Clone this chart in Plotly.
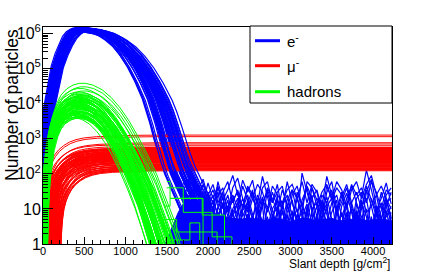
import plotly.graph_objects as go

# ---------------- data ----------------
# electron (e-) median longitudinal profile: depth [g/cm2] -> log10(N)
X_E = [0, 15, 30, 50, 75, 100, 150, 200, 250, 300, 350, 400, 450, 500, 550, 600, 650, 700, 800, 900,
       1000, 1100, 1200, 1300, 1400, 1450, 1500, 1550, 1600, 1650, 1700, 1750, 1800, 1850, 1900, 1950, 2000, 2050]
LOG_E = [-0.5, 1.2, 2.0, 2.8, 3.5, 3.85, 4.45, 5.05, 5.4, 5.68, 5.9, 6.03, 6.1, 6.12, 6.12, 6.1, 6.08, 6.06, 5.98, 5.84,
         5.65, 5.38, 5.04, 4.62, 4.12, 3.8, 3.42, 3.0, 2.6, 2.25, 1.95, 1.7, 1.45, 1.2, 0.95, 0.6, 0.1, -0.5]
E_DX = [-85, -60, -40, -20, 0, 20, -70, -50, -30, -10, 10, 30, -80, -55, -35, -15, 5, 25, -75, -45,
        -25, -5, 15, -65, -42, -22, -2, 18, -88, -58, -38, -18, 8, 28, -68, -48, -28, -8, 12, -33,
        -82, -62, -44, -24, -4, 16, -72, -52, -36, -12, 4, 22, -78, -56, -30, -16, 2, 26, -64, -40]
E_STRETCH = [0.92, 1.05, 0.97, 1.08, 0.94, 1.01, 1.1, 0.9, 1.03, 0.96, 1.07, 0.99, 0.93, 1.04, 1.09, 0.95, 1.02, 0.91, 1.06, 0.98,
             1.0, 1.08, 0.94, 1.03, 0.97, 1.1, 0.92, 1.05, 1.01, 0.96, 1.07, 0.93, 0.99, 1.04, 0.95, 1.09, 0.98, 1.02, 0.91, 1.06,
             1.0, 0.93, 1.06, 0.97, 1.09, 0.91, 1.02, 1.07, 0.95, 1.04, 0.99, 0.92, 1.08, 0.96, 1.01, 1.05, 0.94, 1.1, 0.98, 1.03]
E_DLOG = [0.02, -0.05, 0.04, -0.02, 0.0, -0.07, 0.03, 0.05, -0.04, 0.01, -0.06, 0.02, -0.03, 0.04, -0.01, -0.08, 0.03, 0.0, -0.05, 0.05,
          -0.02, 0.01, -0.06, 0.03, -0.04, 0.02, 0.04, -0.03, 0.0, -0.07, 0.01, 0.05, -0.02, -0.05, 0.03, -0.01, 0.02, -0.04, 0.04, -0.06,
          0.01, -0.03, 0.05, -0.06, 0.02, -0.01, 0.04, -0.04, 0.0, 0.03, -0.07, 0.02, -0.02, 0.05, -0.05, 0.01, 0.03, -0.03, 0.04, -0.08]

# electron fluctuating tail (N values at depths X_TAIL)
X_TAIL = [1700, 1760, 1820, 1880, 1940, 2000, 2060, 2120, 2180, 2240, 2300, 2360, 2420, 2480, 2540, 2600, 2660, 2720,
          2780, 2840, 2900, 2960, 3020, 3080, 3140, 3200, 3260, 3320, 3380, 3440, 3500, 3560, 3620, 3680, 3740, 3800,
          3860, 3920, 3980, 4040, 4100, 4160, 4220]
TAIL_1 = [80, 45, 60, 25, 50, 18, 35, 12, 28, 9, 40, 76, 20, 8, 30, 14, 85, 22, 6, 18, 10, 60, 15, 5, 105, 30, 9, 20, 12, 85, 25, 7, 16, 40, 11, 5, 22, 128, 35, 9, 20, 55, 14]
TAIL_2 = [50, 70, 30, 40, 15, 55, 20, 45, 10, 25, 6, 15, 66, 30, 66, 12, 4, 35, 15, 50, 8, 3, 25, 45, 12, 6, 40, 18, 5, 30, 60, 10, 3, 20, 45, 15, 4, 30, 70, 12, 5, 25, 40]
TAIL_3 = [30, 20, 35, 12, 22, 8, 15, 30, 5, 12, 20, 4, 10, 25, 7, 2, 15, 30, 9, 3, 12, 25, 6, 2, 18, 40, 10, 3, 8, 22, 5, 1.5, 12, 28, 8, 2, 10, 35, 12, 3, 9, 20, 6]
TAIL_4 = [25, 40, 15, 30, 6, 18, 3, 10, 22, 2, 8, 15, 0.5, 6, 20, 9, 1.2, 12, 4, 25, 1, 8, 18, 3, 0.6, 10, 25, 2, 6, 15, 1, 9, 30, 4, 0.5, 14, 6, 2, 20, 8, 1, 12, 30]
TAIL_5 = [15, 8, 25, 4, 12, 30, 2, 6, 15, 0.5, 4, 10, 3, 18, 1, 5, 12, 0.7, 7, 3, 15, 0.5, 5, 10, 2, 12, 0.5, 6, 14, 3, 0.8, 8, 4, 12, 1, 6, 18, 2, 0.5, 7, 15, 3, 8]
TAIL_6 = [10, 20, 5, 14, 2, 8, 18, 1, 5, 12, 0.5, 8, 20, 4, 1, 10, 3, 0.5, 6, 12, 2, 7, 0.5, 4, 9, 1.5, 5, 12, 0.5, 3, 8, 18, 1, 5, 0.5, 8, 3, 10, 1, 4, 0.5, 9, 2]
TAIL_7 = [6, 3, 10, 1, 5, 2, 8, 0.5, 3, 6, 1, 4, 0.5, 7, 2, 0.5, 5, 1, 3, 8, 0.5, 2, 6, 1, 0.5, 4, 2, 7, 0.5, 1.5, 5, 0.5, 3, 8, 1, 0.5, 4, 1, 6, 0.5, 2, 4, 1]
TAIL_8 = [45, 15, 20, 50, 10, 30, 8, 60, 18, 35, 90, 25, 12, 40, 20, 50, 30, 10, 45, 25, 15, 35, 50, 20, 8, 60, 40, 12, 30, 50, 18, 40, 25, 10, 35, 60, 20, 50, 90, 25, 45, 20, 10]
TAIL_9 = [35, 60, 20, 45, 12, 25, 50, 15, 30, 60, 15, 35, 10, 45, 25, 8, 40, 60, 15, 30, 45, 10, 35, 20, 60, 15, 50, 30, 8, 45, 20, 60, 35, 12, 50, 25, 40, 15, 60, 30, 10, 35, 25]
TAIL_10 = [20, 12, 40, 8, 30, 15, 6, 25, 40, 8, 18, 30, 6, 15, 35, 4, 20, 8, 30, 12, 4, 18, 35, 8, 15, 4, 20, 35, 10, 4, 15, 25, 6, 15, 3, 20, 30, 8, 12, 25, 5, 15, 20]
TAIL_11 = [12, 25, 8, 18, 3, 12, 25, 5, 15, 2, 10, 20, 4, 12, 1, 8, 22, 3, 10, 18, 2, 12, 4, 20, 6, 1, 10, 15, 3, 12, 20, 2, 8, 1, 15, 4, 12, 20, 3, 10, 2, 18, 5]
TAIL_12 = [8, 15, 3, 10, 20, 4, 1, 12, 6, 18, 3, 1, 9, 15, 5, 20, 2, 6, 1, 10, 16, 3, 9, 0.5, 6, 14, 4, 1, 18, 7, 2, 12, 0.7, 5, 10, 2, 15, 6, 1, 12, 3, 6, 12]
TAIL_13 = [60, 30, 15, 35, 70, 22, 10, 40, 20, 6, 25, 10, 45, 18, 5, 25, 12, 40, 20, 8, 35, 14, 4, 30, 12, 45, 20, 6, 25, 15, 35, 8, 22, 50, 15, 30, 10, 45, 18, 6, 30, 12, 4]
TAIL_14 = [4, 9, 2, 6, 12, 1, 4, 8, 2, 5, 9, 1, 3, 7, 2, 11, 4, 1, 6, 2, 9, 3, 1, 7, 4, 2, 8, 1, 5, 10, 2, 4, 1, 7, 3, 9, 1, 5, 2, 8, 3, 1, 6]
TAILS = [TAIL_1, TAIL_2, TAIL_3, TAIL_4, TAIL_5, TAIL_6, TAIL_7, TAIL_8, TAIL_9, TAIL_10, TAIL_11, TAIL_12, TAIL_13, TAIL_14]
# dense low part of the electron tail
FILL_X = [1480, 1560, 1640, 1700, 1800, 1900, 2000, 2100, 2200, 2300, 2400, 2500, 2600, 2700, 2800, 2900, 3000,
          3100, 3200, 3300, 3400, 3500, 3600, 3700, 3800, 3900, 4000, 4100, 4230]
FILL_TOP = [1.0, 3, 8, 14, 16, 12, 9, 7, 6, 5.5, 5, 5.5, 5, 4.6, 5.5, 5, 4.4, 5.2, 5.5, 4.6, 5, 5.4, 4.5, 5, 5.3, 4.6, 5, 5.2, 4.6]

# muon (mu-) profile: depth after start -> log10(N) relative to plateau
MU_T = [0, 6, 15, 28, 45, 70, 100, 140, 190, 250, 320, 400, 500, 650, 850, 1100, 1400, 4400]
MU_REL = [-3.2, -2.3, -1.85, -1.45, -1.15, -0.92, -0.74, -0.57, -0.42, -0.3, -0.2, -0.13, -0.08, -0.045, -0.02, -0.008, 0.0, 0.0]
MU_PLAT = [3.105, 3.06, 2.886, 2.85, 2.80, 2.755, 2.74, 2.72, 2.71, 2.69, 2.68, 2.66, 2.65, 2.63, 2.62, 2.60, 2.59, 2.575,
           2.56, 2.545, 2.53, 2.515, 2.50, 2.485, 2.47, 2.455, 2.44, 2.42, 2.40, 2.385, 2.37, 2.35, 2.33, 2.31, 2.29,
           2.27, 2.25, 2.23, 2.21, 2.19, 2.17, 2.15, 2.13, 2.11, 2.088,
           2.745, 2.73, 2.70, 2.675, 2.655, 2.64, 2.625, 2.61, 2.595, 2.58, 2.565, 2.55, 2.535, 2.52, 2.505,
           2.49, 2.475, 2.46, 2.445, 2.43, 2.41, 2.39, 2.36, 2.34, 2.32, 2.28, 2.24, 2.2, 2.16, 2.12]
MU_X0 = [0, 10, 30, 5, 40, 20, 60, 15, 80, 35, 100, 50, 25, 120, 70, 45, 140, 90, 10, 110, 65, 160, 30, 130, 85,
         55, 175, 100, 40, 150, 75, 190, 115, 60, 165, 95, 200, 135, 80, 180, 120, 210, 155, 185, 195,
         25, 70, 5, 110, 50, 145, 20, 90, 130, 60, 170, 35, 100, 15, 80, 120, 45, 155, 65, 105, 140, 30, 175, 85,
         125, 160, 185, 200, 170, 205]

# hadron median profile
X_H = [0, 10, 25, 45, 70, 100, 150, 200, 260, 330, 400, 470, 550, 650, 750, 850, 950, 1050, 1150, 1250, 1350, 1450, 1520]
LOG_H = [-0.5, 0.6, 1.4, 2.1, 2.6, 3.0, 3.4, 3.65, 3.82, 3.93, 3.98, 3.98, 3.93, 3.8, 3.58, 3.28, 2.9, 2.45, 1.95, 1.4, 0.75, 0.05, -0.5]
H_DLOG = [0.6, 0.5, 0.45, 0.38, 0.32, 0.28, 0.25, 0.22, 0.2, 0.17, 0.15, 0.12, 0.1, 0.08, 0.06, 0.04, 0.02, 0.0, -0.02, -0.04,
          -0.06, -0.08, -0.1, -0.12, -0.14, -0.16, -0.18, -0.2, -0.22, -0.24, -0.26, -0.28, -0.3, -0.32, -0.34, -0.36, -0.38, -0.4, 0.05, -0.1,
          0.35, 0.27, 0.19, 0.11, 0.03, -0.05, -0.13, -0.21, -0.29, -0.37, 0.24, 0.16, 0.09, 0.01, -0.07, -0.15, -0.23, -0.31, -0.39, 0.13,
          0.07, -0.03, -0.11, -0.19, -0.27, -0.35, 0.21, 0.14, -0.01, -0.09]
H_STRETCH = [1.1, 1.08, 1.06, 1.07, 1.03, 1.05, 1.0, 1.04, 0.98, 1.02, 1.06, 0.97, 1.0, 0.95, 1.03, 0.99, 0.93, 1.01, 0.96, 1.04,
             0.92, 0.98, 1.0, 0.94, 0.97, 1.02, 0.9, 0.95, 0.99, 0.93, 0.96, 0.91, 0.97, 0.94, 0.9, 0.95, 0.92, 0.93, 1.05, 0.88,
             1.04, 1.09, 0.95, 1.06, 0.92, 1.02, 0.97, 1.05, 0.9, 0.96, 1.08, 0.93, 1.03, 0.99, 0.94, 1.07, 0.91, 0.98, 1.0, 1.05,
             0.93, 1.08, 0.96, 1.01, 0.89, 0.97, 1.0, 1.06, 0.92, 1.03]
H_DX = [0, 20, -10, 30, 10, -20, 40, 0, -30, 15, -5, 25, -15, 35, 5, -25, 45, 10, -35, 20,
        -10, 30, 0, -20, 40, 10, -30, 15, -5, 25, -15, 35, 5, -25, 45, 10, -35, 20, 0, 50,
        -20, 10, 35, -30, 20, -5, 40, -15, 25, 0, -25, 30, 5, -35, 15, -10, 45, -20, 10, 30,
        0, -30, 20, -15, 35, 5, -10, 25, -25, 15]
# hadron low-number step tails
H_TAILS = [
    ([1480, 1540, 1540, 1660, 1660, 1930, 1930, 2200, 2200], [12, 12, 20, 20, 20, 20, 6.7, 6.7, 0.5]),
    ([1450, 1620, 1620, 2110, 2110], [5, 5, 2.2, 2.2, 0.5]),
    ([1500, 1700, 1700, 2050, 2050, 2290, 2290], [40, 40, 8, 8, 1.6, 1.6, 0.5]),
    ([1500, 1540, 1540, 1940, 1940], [60, 60, 20, 20, 0.5]),
    ([1480, 1500, 1500, 1780, 1780, 1900, 1900], [3, 3, 1.3, 1.3, 4, 4, 0.5]),
]

X_TICKS = [0, 500, 1000, 1500, 2000, 2500, 3000, 3500, 4000]
Y_TICKS = [1, 10, 100, 1000, 10000, 100000, 1000000]
Y_TICKTEXT = ["1", "10", "10<sup>2</sup>", "10<sup>3</sup>", "10<sup>4</sup>", "10<sup>5</sup>", "10<sup>6</sup>"]
LEGEND_LABELS = ["e<sup>-</sup>", "μ<sup>-</sup>", "hadrons"]
COLORS = ["#0000ff", "#ff0000", "#00ff00"]

FONT = "Liberation Sans, Arial, sans-serif"


def profile_lines(bx, blog, dx, st, dl, idx):
    xs, ys = [], []
    for i in idx:
        for x, lg in zip(bx, blog):
            xs.append(x * st[i] + dx[i])
            ys.append(10 ** (lg + dl[i]))
        xs.append(None)
        ys.append(None)
    return xs, ys


def line(xs, ys, color, width=1.0):
    return go.Scatter(x=xs, y=ys, mode="lines", line=dict(color=color, width=width),
                      showlegend=False, hoverinfo="skip")


fig = go.Figure()

n_e = len(E_DX)
# blue group A
xa, ya = profile_lines(X_E, LOG_E, E_DX, E_STRETCH, E_DLOG, range(0, n_e, 2))
fig.add_trace(line(xa, ya, COLORS[0], 1.2))

# blue tail: dense low fill
fig.add_trace(go.Scatter(x=FILL_X, y=[0.5] * len(FILL_X), mode="lines", line=dict(width=0, color=COLORS[0]),
                         showlegend=False, hoverinfo="skip"))
fig.add_trace(go.Scatter(x=FILL_X, y=FILL_TOP, mode="lines", line=dict(width=1, color=COLORS[0]),
                         fill="tonexty", fillcolor=COLORS[0], showlegend=False, hoverinfo="skip"))
tx, ty = [], []
for t in TAILS:
    tx += X_TAIL + [None]
    ty += t + [None]
fig.add_trace(line(tx, ty, COLORS[0], 1.2))

# red muons
mx, my = [], []
for x0, pl in zip(MU_X0, MU_PLAT):
    for t, r in zip(MU_T, MU_REL):
        mx.append(x0 + t)
        my.append(10 ** (pl + r))
    mx.append(None)
    my.append(None)
fig.add_trace(line(mx, my, COLORS[1]))

# blue group B
xb, yb = profile_lines(X_E, LOG_E, E_DX, E_STRETCH, E_DLOG, range(1, n_e, 2))
fig.add_trace(line(xb, yb, COLORS[0], 1.2))

# green hadrons
hx, hy = profile_lines(X_H, LOG_H, H_DX, H_STRETCH, H_DLOG, range(len(H_DX)))
fig.add_trace(line(hx, hy, COLORS[2]))
gx, gy = [], []
for xs_, ys_ in H_TAILS:
    gx += xs_ + [None]
    gy += ys_ + [None]
fig.add_trace(line(gx, gy, COLORS[2]))

# ---------------- layout ----------------
L, R, T, B = 43, 44, 27, 28
W, H = 436, 272
pw, ph = W - L - R, H - T - B


def px_x(p):
    return (p - L) / pw


def px_y(p):
    return (H - B - p) / ph


minor_y = [k * 10 ** n for n in range(7) for k in range(2, 10)]

fig.update_layout(
    width=W, height=H,
    margin=dict(l=L, r=R, t=T, b=B, autoexpand=False),
    plot_bgcolor="white", paper_bgcolor="white",
    font=dict(family=FONT, color="black"),
    showlegend=False,
    xaxis=dict(range=[0, 4230], tickvals=X_TICKS, ticks="inside", ticklen=7, tickwidth=1, tickcolor="black",
               showline=True, linecolor="black", linewidth=1, mirror=True, showgrid=False, zeroline=False,
               automargin=False, tickfont=dict(size=11, family=FONT), ticklabelstandoff=-3,
               minor=dict(ticks="inside", ticklen=4, dtick=100, tickcolor="black", showgrid=False)),
    yaxis=dict(type="log", range=[0, 6.186], tickvals=Y_TICKS, ticktext=Y_TICKTEXT, ticks="inside", ticklen=10,
               tickwidth=1, tickcolor="black", showline=True, linecolor="black", linewidth=1, mirror=True,
               showgrid=False, zeroline=False, automargin=False, tickfont=dict(size=16, family=FONT),
               ticklabelstandoff=-2,
               minor=dict(ticks="inside", ticklen=5, tickvals=minor_y, tickcolor="black", showgrid=False)),
)

# axis titles
fig.add_annotation(text="Number of particles", xref="paper", yref="paper", x=px_x(12), y=1.0,
                   xanchor="center", yanchor="top", textangle=-90, showarrow=False,
                   font=dict(size=17.5, family=FONT))
fig.add_annotation(text="Slant depth [g/cm<sup>2</sup>]", xref="paper", yref="paper", x=1.0, y=px_y(263),
                   xanchor="right", yanchor="middle", showarrow=False, font=dict(size=12, family=FONT))

# legend box
fig.add_shape(type="rect", xref="paper", yref="paper", x0=px_x(250), x1=1.0, y0=px_y(103), y1=px_y(26),
              line=dict(color="black", width=1), fillcolor="white", layer="above")
for lab, col, py in zip(LEGEND_LABELS, COLORS, [40.7, 65.7, 91.7]):
    fig.add_shape(type="line", xref="paper", yref="paper", x0=px_x(255), x1=px_x(280), y0=px_y(py), y1=px_y(py),
                  line=dict(color=col, width=3), layer="above")
    fig.add_annotation(text=lab, xref="paper", yref="paper", x=px_x(285), y=px_y(py), xanchor="left",
                       yanchor="middle", showarrow=False, font=dict(size=15, family=FONT))

fig.write_html("out.html", config={"displayModeBar": False},
               post_script="document.body.style.margin='0px';document.body.style.overflow='hidden';")
